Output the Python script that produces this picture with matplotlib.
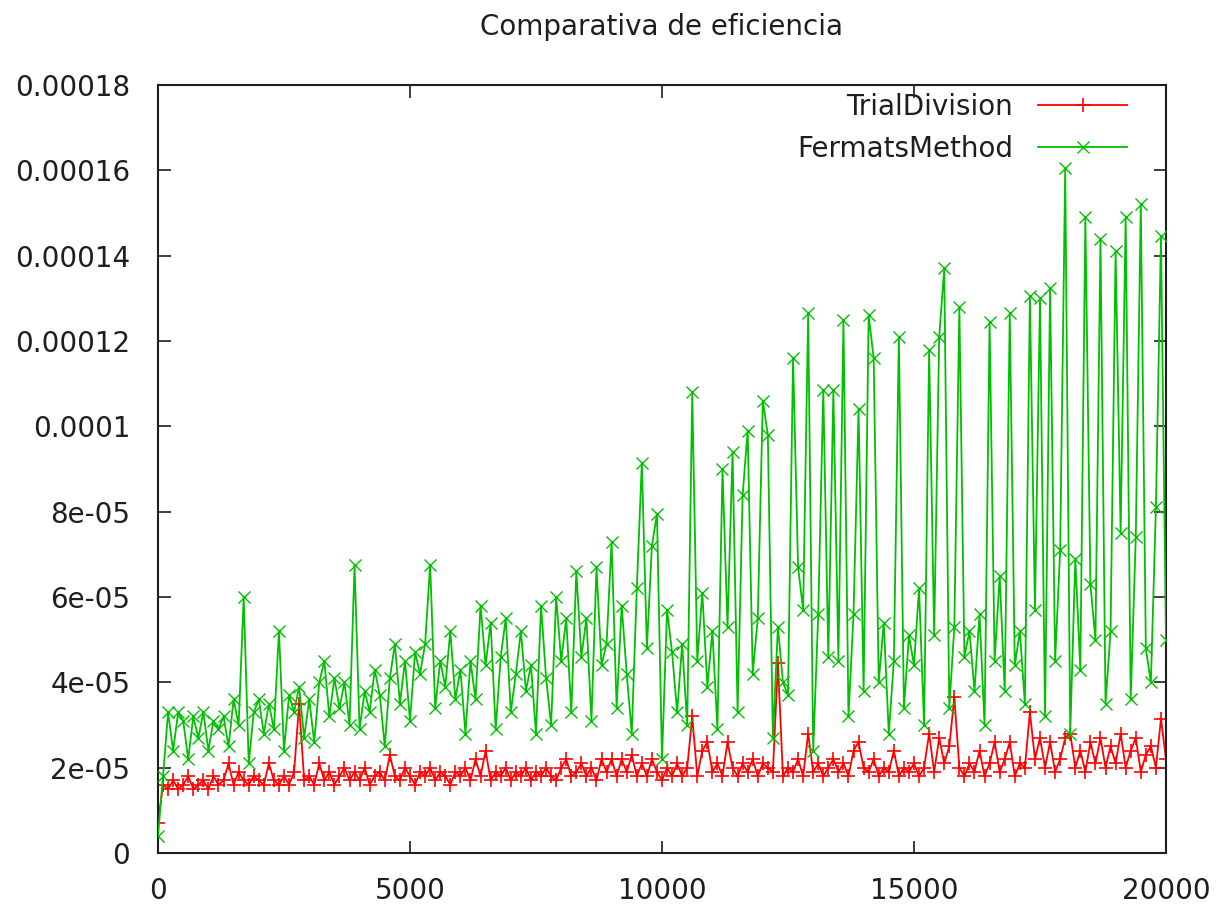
import numpy as np
import matplotlib
matplotlib.use("Agg")
import matplotlib.pyplot as plt
from matplotlib.ticker import FixedLocator, FixedFormatter

plt.rcParams['font.family'] = ['DejaVu Sans']

title = "Comparativa de eficiencia"
series_names = ["TrialDivision", "FermatsMethod"]
x_step = 100  # spacing of the measured sizes

# values in units of 1e-5 seconds
trial_division = [
    0.7, 1.6, 1.5, 1.7, 1.5, 1.6, 1.8, 1.5, 1.6, 1.7,
    1.5, 1.8, 1.6, 1.7, 2.1, 1.6, 1.9, 1.7, 1.6, 1.8,
    1.7, 1.6, 2.1, 1.7, 1.6, 1.8, 1.6, 1.9, 3.5, 1.7,
    1.8, 1.6, 2.1, 1.7, 1.9, 1.6, 1.8, 2.0, 1.7, 1.9,
    1.7, 2.0, 1.6, 1.8, 1.9, 1.7, 2.3, 1.8, 1.7, 2.0,
    1.8, 1.6, 1.9, 1.8, 2.0, 1.7, 1.9, 1.8, 1.6, 1.9,
    1.8, 2.0, 1.7, 2.2, 1.8, 2.4, 1.7, 1.9, 1.8, 2.0,
    1.7, 1.9, 1.8, 2.0, 1.7, 1.9, 1.8, 2.0, 1.8, 1.7,
    2.0, 2.2, 1.8, 1.9, 2.1, 1.8, 2.0, 1.7, 2.2, 1.9,
    2.2, 1.8, 2.2, 1.9, 2.3, 1.8, 2.1, 1.8, 2.2, 1.9,
    1.7, 2.0, 1.8, 2.1, 1.8, 2.0, 3.2, 1.8, 2.4, 2.6,
    1.9, 2.1, 1.8, 2.6, 2.0, 1.8, 2.1, 1.9, 2.2, 1.8,
    2.1, 2.0, 1.9, 4.45, 1.8, 2.0, 1.9, 2.2, 1.8, 2.8,
    1.9, 2.1, 1.8, 2.0, 2.2, 1.9, 2.1, 1.8, 2.4, 2.6,
    2.0, 1.9, 2.2, 1.8, 2.0, 1.9, 2.4, 1.8, 2.0, 1.9,
    2.1, 1.8, 2.0, 2.8, 1.9, 2.7, 2.1, 2.5, 3.65, 2.0,
    1.8, 2.1, 1.9, 2.4, 1.8, 2.1, 2.6, 1.9, 2.2, 2.6,
    1.8, 2.1, 2.0, 3.3, 2.2, 2.7, 2.0, 2.6, 1.9, 2.2,
    2.7, 2.8, 2.0, 2.4, 1.9, 2.6, 2.1, 2.7, 2.0, 2.5,
    2.1, 2.8, 2.0, 2.4, 2.7, 1.9, 2.3, 2.5, 2.0, 3.15,
    2.2,
]

fermats_method = [
    0.4, 1.8, 3.3, 2.4, 3.3, 3.1, 2.2, 3.2, 2.7, 3.3,
    2.4, 3.1, 2.9, 3.2, 2.5, 3.6, 3.0, 6.0, 2.1, 3.3,
    3.6, 2.8, 3.5, 2.9, 5.2, 2.4, 3.7, 3.3, 3.9, 2.7,
    3.6, 2.6, 4.0, 4.5, 3.2, 4.1, 3.4, 4.0, 3.0, 6.75,
    2.9, 3.8, 3.3, 4.3, 3.7, 2.5, 4.1, 4.9, 3.5, 4.5,
    3.1, 4.7, 4.2, 4.9, 6.75, 3.4, 4.5, 3.9, 5.2, 3.6,
    4.3, 2.8, 4.5, 3.6, 5.8, 4.4, 5.4, 2.9, 4.6, 5.5,
    3.3, 4.2, 5.2, 3.8, 4.4, 2.8, 5.8, 4.1, 3.0, 6.0,
    4.5, 5.5, 3.3, 6.6, 4.6, 5.5, 3.1, 6.7, 4.4, 4.9,
    7.3, 3.4, 5.8, 4.2, 2.8, 6.2, 9.15, 4.8, 7.2, 7.95,
    2.2, 5.7, 4.7, 3.3, 4.9, 3.0, 10.8, 4.5, 6.1, 3.9,
    5.2, 2.9, 9.0, 5.3, 9.4, 3.3, 8.4, 9.9, 4.2, 5.5,
    10.6, 9.8, 2.7, 5.3, 4.0, 3.7, 11.6, 6.7, 5.7, 12.65,
    2.4, 5.6, 10.85, 4.6, 10.85, 4.5, 12.5, 3.2, 5.6, 10.4,
    3.8, 12.6, 11.6, 4.0, 5.4, 2.8, 4.5, 12.1, 3.4, 5.1,
    4.4, 6.2, 3.0, 11.8, 5.1, 12.1, 13.7, 3.4, 5.3, 12.8,
    4.6, 5.2, 3.8, 5.6, 3.0, 12.45, 4.5, 6.5, 3.8, 12.65,
    4.4, 5.2, 3.5, 13.05, 5.7, 13.0, 3.2, 13.25, 4.5, 7.1,
    16.05, 2.8, 6.9, 4.3, 14.9, 6.3, 5.0, 14.4, 3.5, 5.2,
    14.1, 7.5, 14.9, 3.6, 7.4, 15.2, 4.8, 4.0, 8.1, 14.45,
    5.0,
]

x_ticks = [0, 5000, 10000, 15000, 20000]
x_tick_labels = ["0", "5000", "10000", "15000", "20000"]
y_ticks = [0, 2e-5, 4e-5, 6e-5, 8e-5, 1e-4, 1.2e-4, 1.4e-4, 1.6e-4, 1.8e-4]
y_tick_labels = ["0", "2e-05", "4e-05", "6e-05", "8e-05", "0.0001",
                 "0.00012", "0.00014", "0.00016", "0.00018"]

td = np.array(trial_division) * 1e-5
fm = np.array(fermats_method) * 1e-5
x_td = np.arange(len(td)) * x_step
x_fm = np.arange(len(fm)) * x_step

W, H = 1227, 905
fig = plt.figure(figsize=(W / 100, H / 100), dpi=100)
ax = fig.add_axes([158 / W, 1 - 853 / H, (1166 - 158) / W, (853 - 85) / H])

red = "#ff0000"
green = "#00c000"
ink = "#1e1e1e"
ax.plot(x_td, td, color=red, lw=1.3, marker="+", ms=10, mew=1.2,
        label=series_names[0], zorder=2)
ax.plot(x_fm, fm, color=green, lw=1.3, marker="x", ms=8, mew=1.0,
        label=series_names[1], zorder=3)

ax.set_xlim(0, 20000)
ax.set_ylim(0, 1.8e-4)
ax.xaxis.set_major_locator(FixedLocator(x_ticks))
ax.xaxis.set_major_formatter(FixedFormatter(x_tick_labels))
ax.yaxis.set_major_locator(FixedLocator(y_ticks))
ax.yaxis.set_major_formatter(FixedFormatter(y_tick_labels))
ax.tick_params(direction="in", length=9, width=1.2, top=True, right=True,
               labelsize=20, color=ink, labelcolor=ink)
ax.tick_params(axis="x", pad=17)
ax.tick_params(axis="y", pad=20)
for s in ax.spines.values():
    s.set_linewidth(1.5)
    s.set_color(ink)

ax.set_title(title, fontsize=20, pad=36, color=ink)

leg = ax.legend(loc="upper right", bbox_to_anchor=(1127 / W, 1 - 93 / H),
                bbox_transform=fig.transFigure, frameon=False,
                markerfirst=False, fontsize=20, handlelength=3.2,
                handletextpad=0.9, labelspacing=0.5, borderaxespad=0,
                borderpad=0)
for t in leg.get_texts():
    t.set_ha("right")
    t.set_color(ink)

fig.savefig("out.png", dpi=100)
